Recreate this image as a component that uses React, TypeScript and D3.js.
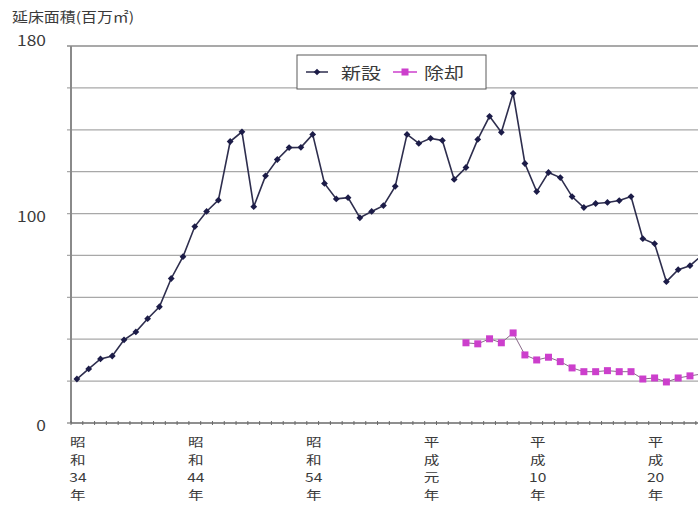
import React from "react";
import * as d3 from "d3";

const years = [
  1959, 1960, 1961, 1962, 1963, 1964, 1965, 1966, 1967, 1968,
  1969, 1970, 1971, 1972, 1973, 1974, 1975, 1976, 1977, 1978,
  1979, 1980, 1981, 1982, 1983, 1984, 1985, 1986, 1987, 1988,
  1989, 1990, 1991, 1992, 1993, 1994, 1995, 1996, 1997, 1998,
  1999, 2000, 2001, 2002, 2003, 2004, 2005, 2006, 2007, 2008,
  2009, 2010, 2011, 2012,
];

const newBuild = [
  21, 25.8, 30.6, 32, 39.7, 43.5, 49.8, 55.5, 69, 79.4,
  93.8, 101, 106.4, 134.4, 139, 103.3, 118, 125.8, 131.5, 131.6,
  137.8, 114.4, 107, 107.6, 98, 101, 103.8, 113, 137.8, 133.5,
  135.9, 134.9, 116.3, 122, 135.4, 146.4, 138.8, 157.4, 123.9, 110.5,
  119.6, 117.2, 108.1, 102.9, 104.8, 105.3, 106.2, 108.1, 88, 85.6,
  67.5, 73.2, 75.1, 80,
];

const demolition: (number | null)[] = [
  null, null, null, null, null, null, null, null, null, null,
  null, null, null, null, null, null, null, null, null, null,
  null, null, null, null, null, null, null, null, null, null,
  null, null, null, 38.3, 37.8, 40.2, 38.3, 43, 32.5, 30.1,
  31.4, 29.3, 26.3, 24.5, 24.5, 25, 24.5, 24.5, 21, 21.5,
  19.6, 21.5, 22.5, 23.4,
];

const gridValues = [20, 40, 60, 80, 100, 120, 140, 160, 180];
const yLabelValues = [0, 100, 180];
const tickYears = [1959, 1969, 1979, 1989, 1998, 2008];
const tickLabelLines = [
  ["昭", "和", "34", "年"],
  ["昭", "和", "44", "年"],
  ["昭", "和", "54", "年"],
  ["平", "成", "元", "年"],
  ["平", "成", "10", "年"],
  ["平", "成", "20", "年"],
];
const seriesNames = ["新設", "除却"];
const yTitle = "延床面積(百万㎡)";

const W = 698;
const H = 511;
const FONT = "'Noto Sans CJK JP', 'Noto Sans', sans-serif";
const TEXT = "#3a3a3a";
const NAVY = "#1c1c48";
const PINK = "#cc3fcc";
const SX = 1.2;

function SText(props: {
  x: number;
  y: number;
  size: number;
  anchor?: string;
  sx?: number;
  children: React.ReactNode;
}) {
  const { x, y, size, anchor = "start", sx = SX, children } = props;
  return (
    <text
      transform={`translate(${x},${y}) scale(${sx},1)`}
      fontSize={size}
      fontFamily={FONT}
      fill={TEXT}
      textAnchor={anchor}
      dominantBaseline="central"
    >
      {children}
    </text>
  );
}

function Diamond({ x, y, r, fill }: { x: number; y: number; r: number; fill: string }) {
  return <path d={`M${x},${y - r}L${x + r},${y}L${x},${y + r}L${x - r},${y}Z`} fill={fill} />;
}

export default function App() {
  const left = 71;
  const top = 46;
  const bottom = 423;
  const step = 11.79;
  const right = left + step * years.length;

  const x = d3
    .scaleBand<number>()
    .domain(years)
    .range([left, right])
    .padding(0);
  const cx = (yr: number) => (x(yr) as number) + x.bandwidth() / 2;
  const y = d3.scaleLinear().domain([0, 180]).range([bottom, top]);

  const line = d3
    .line<[number, number | null]>()
    .defined((d) => d[1] != null)
    .x((d) => cx(d[0]))
    .y((d) => y(d[1] as number));

  const newPts: [number, number | null][] = years.map((yr, i) => [yr, newBuild[i]]);
  const demPts: [number, number | null][] = years.map((yr, i) => [yr, demolition[i]]);

  return (
    <svg
      width={W}
      height={H}
      style={{ position: "absolute", left: 0, top: 0, background: "#fff", overflow: "hidden" }}
    >
      <rect x={0} y={0} width={W} height={H} fill="#fff" />

      {/* gridlines */}
      {gridValues.map((v) => (
        <line
          key={v}
          x1={left - 4}
          x2={right}
          y1={y(v)}
          y2={y(v)}
          stroke={v === 180 ? "#8c8c8c" : "#a8a8a8"}
          strokeWidth={v === 180 ? 1.6 : 1.3}
        />
      ))}

      {/* y axis */}
      <line x1={left} x2={left} y1={top} y2={bottom} stroke="#8a8a8a" strokeWidth={2} />
      <line x1={left - 4} x2={left} y1={bottom} y2={bottom} stroke="#8a8a8a" strokeWidth={1.3} />

      {/* x axis */}
      <line x1={left} x2={right} y1={bottom} y2={bottom} stroke="#6a6a6a" strokeWidth={1.6} />
      {years.map((yr) => (
        <line
          key={yr}
          x1={x(yr) as number}
          x2={x(yr) as number}
          y1={bottom - 2}
          y2={bottom + 2}
          stroke="#6a6a6a"
          strokeWidth={1}
        />
      ))}

      {/* y labels */}
      {yLabelValues.map((v) => (
        <SText key={v} x={46} y={v === 180 ? y(v) - 6 : y(v) + 2} size={14.5} anchor="end">
          {v}
        </SText>
      ))}

      {/* y title */}
      <SText x={12} y={16} size={13.5} sx={1.18}>
        {yTitle}
      </SText>

      {/* x labels: stacked lines */}
      {tickYears.map((yr, k) => (
        <g key={yr}>
          {tickLabelLines[k].map((s, j) => (
            <SText key={j} x={cx(yr) + 1} y={442 + j * 17.6} size={12} anchor="middle" sx={1.3}>
              {s}
            </SText>
          ))}
        </g>
      ))}

      {/* demolition series */}
      <path d={line(demPts) || ""} fill="none" stroke="#8a6a8a" strokeWidth={1} />
      {demPts
        .filter((d) => d[1] != null)
        .map((d) => (
          <rect
            key={d[0]}
            x={cx(d[0]) - 3.5}
            y={y(d[1] as number) - 3.5}
            width={7}
            height={7}
            fill={PINK}
          />
        ))}

      {/* new construction series */}
      <path d={line(newPts) || ""} fill="none" stroke="#2e2e4e" strokeWidth={1.6} />
      {newPts.map((d) => (
        <Diamond key={d[0]} x={cx(d[0])} y={y(d[1] as number)} r={3.4} fill={NAVY} />
      ))}

      {/* legend */}
      <rect x={297} y={55} width={189} height={34} fill="#fff" stroke="#5a5a5a" strokeWidth={1} />
      <line x1={306} x2={328} y1={72} y2={72} stroke="#2e2e4e" strokeWidth={1.5} />
      <Diamond x={317} y={72} r={3.3} fill={NAVY} />
      <SText x={341} y={72} size={16} sx={1.25}>
        {seriesNames[0]}
      </SText>
      <line x1={393} x2={417} y1={72} y2={72} stroke={PINK} strokeWidth={1.5} />
      <rect x={401.5} y={68.5} width={7} height={7} fill={PINK} />
      <SText x={424} y={72} size={16} sx={1.25}>
        {seriesNames[1]}
      </SText>
    </svg>
  );
}
